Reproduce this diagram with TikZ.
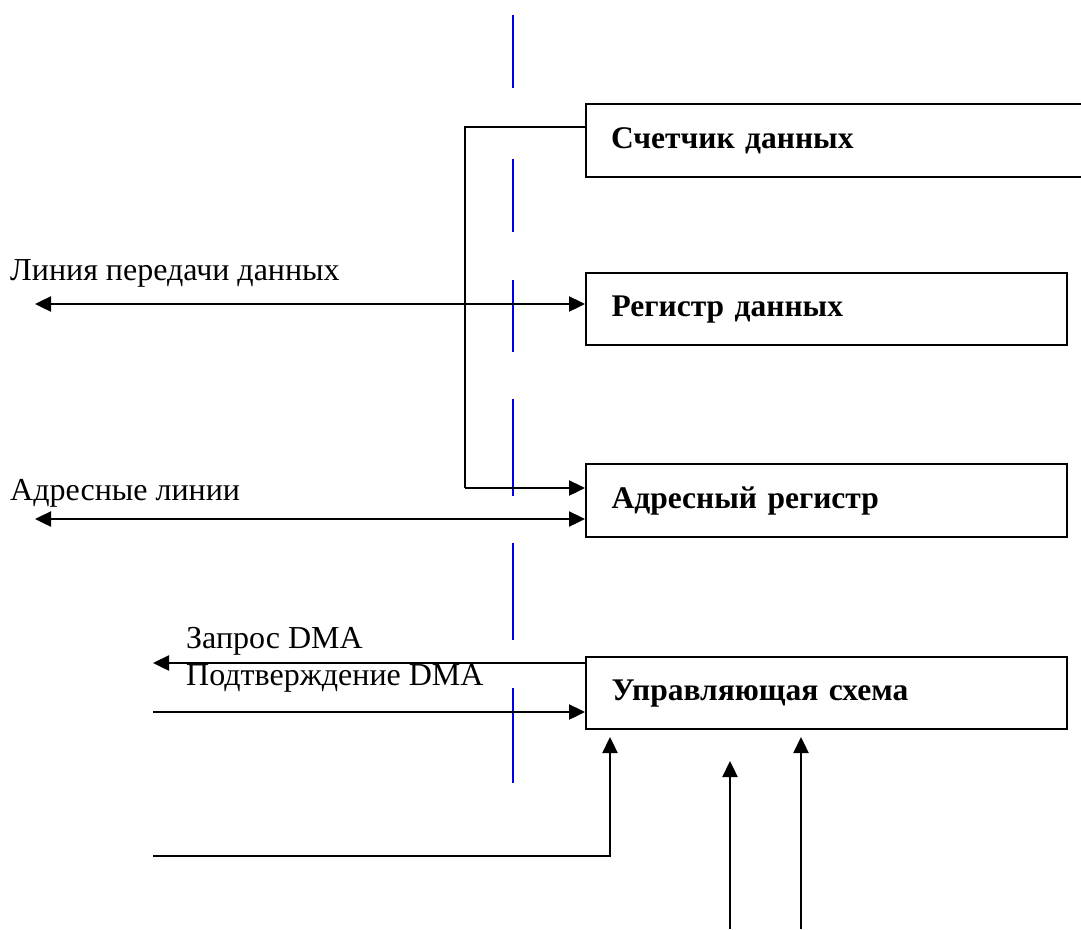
\documentclass[tikz,border=0pt]{standalone}
\usepackage{fontspec}
\setmainfont{Liberation Serif}
\usetikzlibrary{arrows.meta}
\definecolor{dashblue}{RGB}{0,0,230}
\tikzset{
  x=1pt, y=-1pt,
  box/.style={draw, line width=2.2pt, anchor=north west, inner xsep=22pt, align=left,
    font=\fontsize{31.5}{34}\selectfont\bfseries},
  lbl/.style={anchor=base west, inner sep=0pt, font=\fontsize{32}{36}\selectfont},
  tip/.style={-{Triangle[length=16pt,width=15pt]}},
  dtip/.style={{Triangle[length=16pt,width=15pt]}-{Triangle[length=16pt,width=15pt]}},
  wire/.style={line width=2.4pt},
  thin/.style={line width=1.6pt},
  sep/.style={draw=dashblue, line width=1.5pt},
}
\begin{document}
\begin{tikzpicture}
\useasboundingbox (0,0) rectangle (1081,929);
\clip (0,0) rectangle (1081,929);
% separator
\foreach \a/\b in {15/88,159/232,280/352,399/496,543/640,688/783}
  \draw[sep] (513,\a) -- (513,\b);
% boxes
\node[box, minimum width=520pt, minimum height=73pt, text width=470pt] (cnt) at (585,103) {Счетчик данных};
\node[box, minimum width=481pt, minimum height=72pt, text width=430pt] (dreg) at (585,272) {Регистр данных};
\node[box, minimum width=481pt, minimum height=73pt, text width=430pt] (areg) at (585,463) {Адресный регистр};
\node[box, minimum width=481pt, minimum height=72pt, text width=430pt] (ctl) at (585,656) {Управляющая схема};
% labels
\node[lbl] (ldata) at (10,280) {Линия передачи данных};
\node[lbl] (laddr) at (10,500) {Адресные линии};
\node[lbl] (lreq) at (186,648) {Запрос DMA};
\node[lbl] (lack) at (186,685) {Подтверждение DMA};
% free ends
\coordinate (dL) at (35,304);
\coordinate (aL) at (35,519);
\coordinate (rqL) at (153,663);
\coordinate (akL) at (153,712);
\coordinate (inL) at (153,856);
\coordinate (in2) at (730,929);
\coordinate (in3) at (801,929);
\coordinate (bend1) at (465,127);
% connectors
\draw[wire,dtip] (dL) -- (dL -| dreg.west);
\draw[wire,dtip] (aL) -- (aL -| areg.west);
\draw[thin] (cnt.west |- bend1) -- (bend1) -- (465,488);
\draw[wire,tip] (465,488) -- (areg.west |- 0,488);
\draw[wire,tip] (ctl.west |- rqL) -- (rqL);
\draw[wire,tip] (akL) -- (akL -| ctl.west);
\draw[wire,tip] (inL) -- (610,856) -- (610,737);
\draw[wire,tip] (in2) -- (730,761);
\draw[wire,tip] (in3) -- (801,737);
\end{tikzpicture}
\end{document}
